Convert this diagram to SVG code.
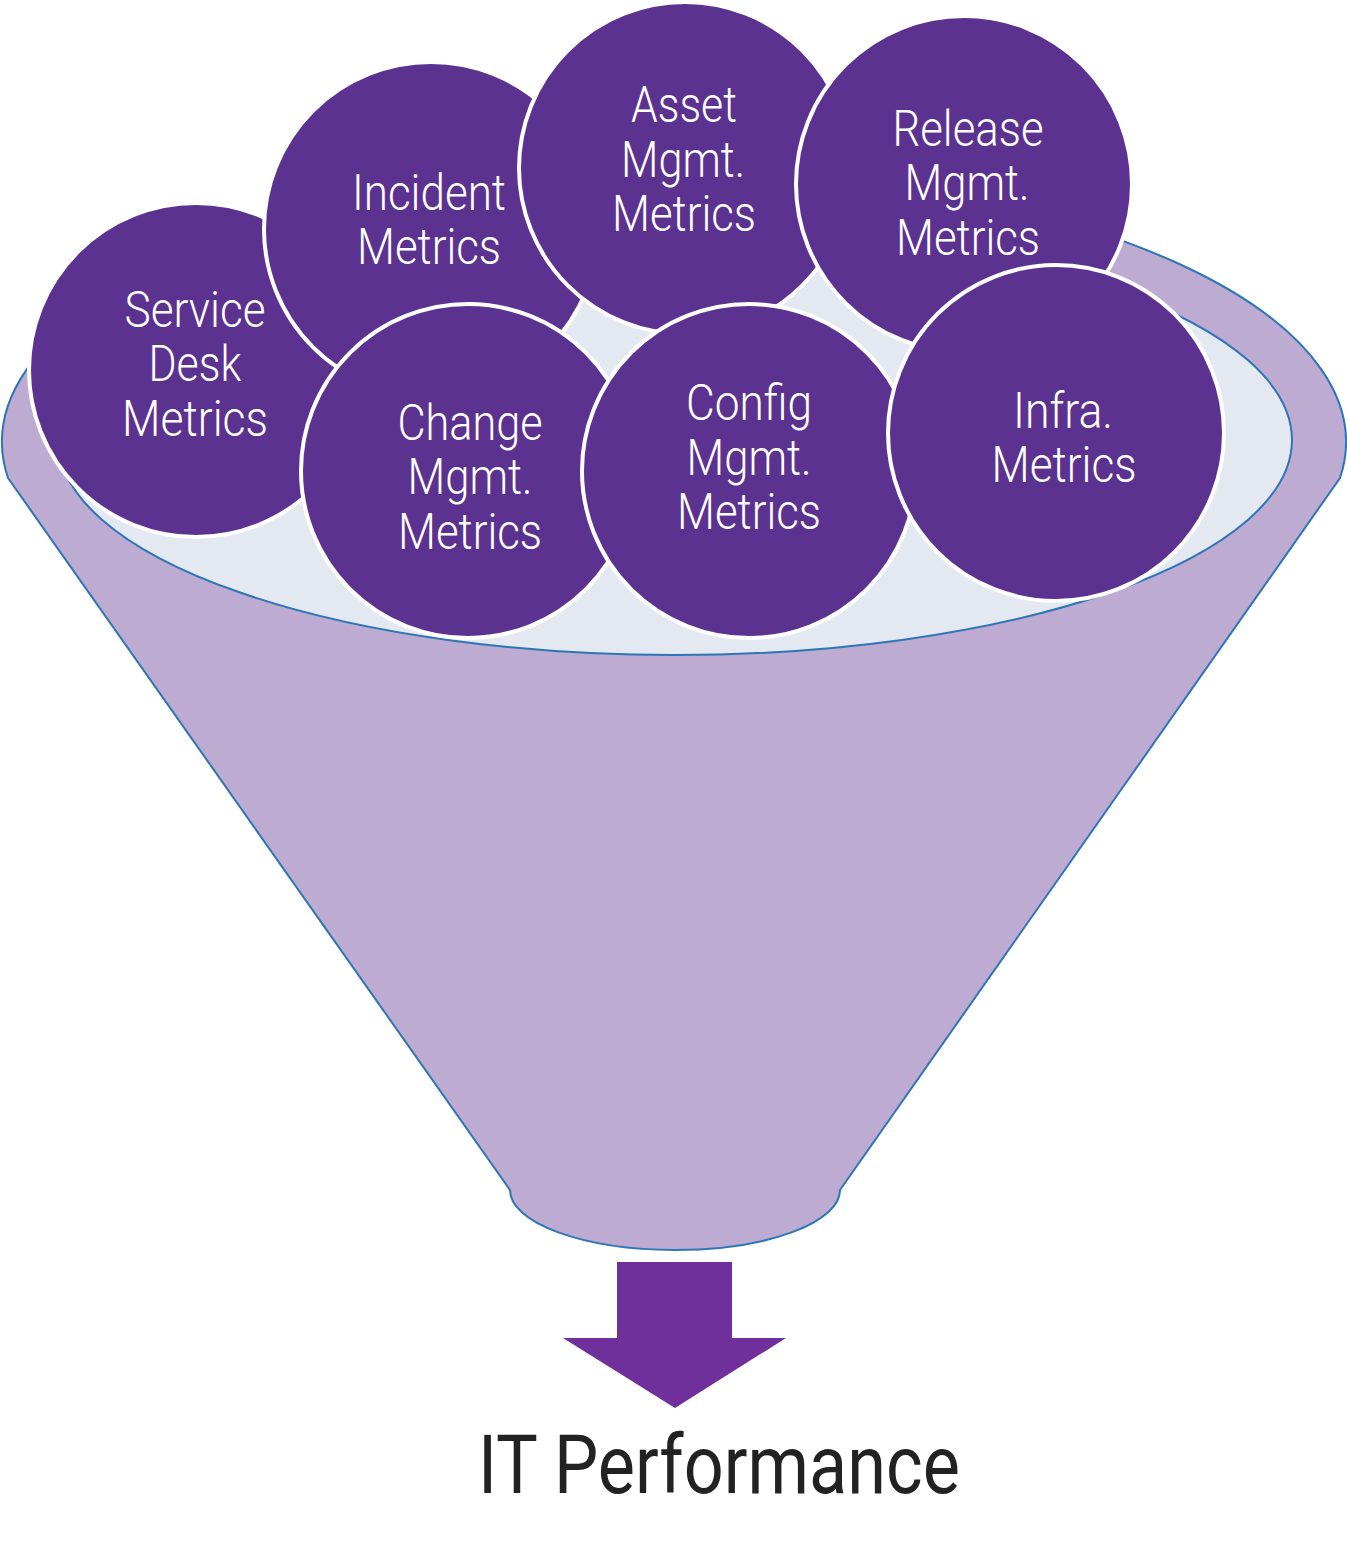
<svg xmlns="http://www.w3.org/2000/svg" width="1347" height="1565" viewBox="0 0 1347 1565">
<style>
.c{fill:#5C3290;stroke:#FFFFFF;stroke-width:4}
.t{font-family:Roboto,"Liberation Sans",sans-serif;font-weight:300;font-size:50px;fill:#FFFFFF;text-anchor:middle}
.f{stroke:#2E75B6;stroke-width:2}
</style>
<rect width="1347" height="1565" fill="#FFFFFF"/>
<g id="funnel">
<path class="f" fill="#BDABD1" d="M8,478 L510,1190 A165,60 0 0 0 840,1190 L1340,478 A672,270 0 1 0 8,478 Z"/>
<ellipse class="f" cx="675" cy="440" rx="617" ry="215" fill="#E4E8F1"/>
</g>
<g id="service-desk">
<circle class="c" cx="196" cy="370" r="167"/>
<text class="t" x="195" y="327" textLength="141" lengthAdjust="spacingAndGlyphs">Service</text>
<text class="t" x="195" y="381" textLength="93" lengthAdjust="spacingAndGlyphs">Desk</text>
<text class="t" x="195" y="436" textLength="146" lengthAdjust="spacingAndGlyphs">Metrics</text>
</g>
<g id="incident">
<circle class="c" cx="431" cy="229" r="167"/>
<text class="t" x="429" y="210" textLength="154" lengthAdjust="spacingAndGlyphs">Incident</text>
<text class="t" x="429" y="264" textLength="144" lengthAdjust="spacingAndGlyphs">Metrics</text>
</g>
<g id="asset">
<circle class="c" cx="685" cy="168" r="166"/>
<text class="t" x="684" y="122" textLength="106" lengthAdjust="spacingAndGlyphs">Asset</text>
<text class="t" x="683" y="177" textLength="124" lengthAdjust="spacingAndGlyphs">Mgmt.</text>
<text class="t" x="684" y="231" textLength="144" lengthAdjust="spacingAndGlyphs">Metrics</text>
</g>
<g id="release">
<circle class="c" cx="964" cy="184" r="168"/>
<text class="t" x="968" y="146" textLength="151" lengthAdjust="spacingAndGlyphs">Release</text>
<text class="t" x="967" y="200" textLength="125" lengthAdjust="spacingAndGlyphs">Mgmt.</text>
<text class="t" x="968" y="255" textLength="144" lengthAdjust="spacingAndGlyphs">Metrics</text>
</g>
<g id="change">
<circle class="c" cx="468" cy="471" r="167"/>
<text class="t" x="470" y="440" textLength="145" lengthAdjust="spacingAndGlyphs">Change</text>
<text class="t" x="470" y="494" textLength="125" lengthAdjust="spacingAndGlyphs">Mgmt.</text>
<text class="t" x="470" y="549" textLength="144" lengthAdjust="spacingAndGlyphs">Metrics</text>
</g>
<g id="config">
<circle class="c" cx="749" cy="471" r="167"/>
<text class="t" x="749" y="420" textLength="126" lengthAdjust="spacingAndGlyphs">Config</text>
<text class="t" x="749" y="475" textLength="125" lengthAdjust="spacingAndGlyphs">Mgmt.</text>
<text class="t" x="749" y="529" textLength="144" lengthAdjust="spacingAndGlyphs">Metrics</text>
</g>
<g id="infra">
<circle class="c" cx="1056" cy="433" r="168"/>
<text class="t" x="1063" y="428" textLength="100" lengthAdjust="spacingAndGlyphs">Infra.</text>
<text class="t" x="1064" y="482" textLength="145" lengthAdjust="spacingAndGlyphs">Metrics</text>
</g>
<g id="connectors">
<path fill="#70309B" d="M617,1262 H732 V1338 H786 L675,1408 L563,1338 H617 Z"/>
</g>
<g id="output">
<text x="719" y="1493" font-family="Roboto,'Liberation Sans',sans-serif" font-size="82" fill="#222222" text-anchor="middle" textLength="482" lengthAdjust="spacingAndGlyphs">IT Performance</text>
</g>
</svg>
